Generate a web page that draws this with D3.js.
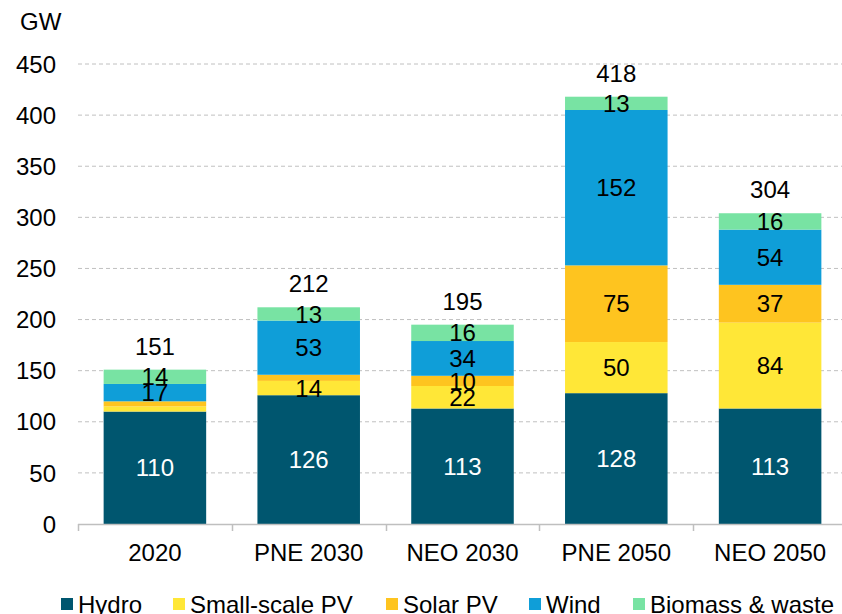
<!DOCTYPE html>
<html>
<head>
<meta charset="utf-8">
<script src="https://cdn.jsdelivr.net/npm/d3@7"></script>
<style>
  body { margin: 0; background: #fff; }
  svg { font-family: "Liberation Sans", Arial, sans-serif; }
</style>
</head>
<body>
<div id="viz"></div>
<script>
// chart data
var categories = ["2020", "PNE 2030", "NEO 2030", "PNE 2050", "NEO 2050"];
var seriesNames = ["Hydro", "Small-scale PV", "Solar PV", "Wind", "Biomass & waste"];
var hydro = [110, 126, 113, 128, 113];
var smallPV = [5, 14, 22, 50, 84];
var solarPV = [5, 6, 10, 75, 37];
var wind = [17, 53, 34, 152, 54];
var biomass = [14, 13, 16, 13, 16];
var totals = [151, 212, 195, 418, 304];
var yTicks = [0, 50, 100, 150, 200, 250, 300, 350, 400, 450];

var colors = ["#00566f", "#ffe737", "#fec41f", "#0f9ed8", "#78e3a3"];
var labelColors = ["#fff", "#000", "#000", "#000", "#000"];
var fontSize = "24px";

var width = 842, height = 614;
var margin = {top: 64, left: 78, right: 842 - 847, bottom: 614 - 524};

var rows = categories.map(function(c, i) {
    return {cat: c, "Hydro": hydro[i], "Small-scale PV": smallPV[i], "Solar PV": solarPV[i],
            "Wind": wind[i], "Biomass & waste": biomass[i], total: totals[i]};
});

var svg = d3.select("#viz").append("svg")
    .attr("width", width)
    .attr("height", height);

var x = d3.scaleBand()
    .domain(categories)
    .range([margin.left, width - margin.right])
    .paddingInner(1 / 3)
    .paddingOuter(1 / 6);

// band boundaries for the axis tick marks
var xEdge = d3.scaleBand()
    .domain(categories)
    .range([margin.left, width - margin.right])
    .padding(0);

var y = d3.scaleLinear()
    .domain([0, 450])
    .range([height - margin.bottom, margin.top]);

// gridlines
svg.append("g")
    .selectAll("line")
    .data(yTicks.filter(function(d) { return d > 0; }))
    .enter()
    .append("line")
        .attr("x1", margin.left)
        .attr("x2", width)
        .attr("y1", function(d) { return y(d); })
        .attr("y2", function(d) { return y(d); })
        .attr("stroke", "#c0c0c0")
        .attr("stroke-width", 1)
        .attr("stroke-dasharray", "4,3");

// y tick labels
svg.append("g")
    .selectAll("text")
    .data(yTicks)
    .enter()
    .append("text")
        .attr("x", 56)
        .attr("y", function(d) { return y(d); })
        .attr("dy", "0.36em")
        .attr("text-anchor", "end")
        .attr("font-size", fontSize)
        .attr("fill", "#000")
        .text(function(d) { return d; });

svg.append("text")
    .attr("x", 20)
    .attr("y", 30)
    .attr("font-size", fontSize)
    .text("GW");

// stacked bars
var stacked = d3.stack().keys(seriesNames)(rows);

var layers = svg.append("g")
    .selectAll("g")
    .data(stacked)
    .enter()
    .append("g")
        .attr("fill", function(d, i) { return colors[i]; });

layers.selectAll("rect")
    .data(function(d) { return d; })
    .enter()
    .append("rect")
        .attr("x", function(d) { return x(d.data.cat); })
        .attr("width", x.bandwidth())
        .attr("y", function(d) { return y(d[1]); })
        .attr("height", function(d) { return y(d[0]) - y(d[1]); });

// segment labels (thin PV slices of 2020 and PNE 2030 carry no label)
stacked.forEach(function(layer, i) {
    svg.append("g")
        .selectAll("text")
        .data(layer)
        .enter()
        .append("text")
            .attr("x", function(d) { return x(d.data.cat) + x.bandwidth() / 2; })
            .attr("y", function(d) { return (y(d[0]) + y(d[1])) / 2; })
            .attr("dy", "0.36em")
            .attr("text-anchor", "middle")
            .attr("font-size", fontSize)
            .attr("fill", labelColors[i])
            .text(function(d) {
                var v = d[1] - d[0];
                return (i === 1 || i === 2) && v < 8 ? "" : v;
            });
});

// totals
svg.append("g")
    .selectAll("text")
    .data(rows)
    .enter()
    .append("text")
        .attr("x", function(d) { return x(d.cat) + x.bandwidth() / 2; })
        .attr("y", function(d) { return y(d.total) - 15; })
        .attr("text-anchor", "middle")
        .attr("font-size", fontSize)
        .text(function(d) { return d.total; });

// x axis
var axisY = y(0);
svg.append("line")
    .attr("x1", margin.left)
    .attr("x2", width)
    .attr("y1", axisY + 0.5)
    .attr("y2", axisY + 0.5)
    .attr("stroke", "#bfbfbf")
    .attr("stroke-width", 1.5);

var edges = categories.map(function(c) { return xEdge(c); });
svg.append("g")
    .selectAll("line")
    .data(edges)
    .enter()
    .append("line")
        .attr("x1", function(d) { return Math.round(d) + 0.5; })
        .attr("x2", function(d) { return Math.round(d) + 0.5; })
        .attr("y1", axisY)
        .attr("y2", axisY + 7)
        .attr("stroke", "#bfbfbf")
        .attr("stroke-width", 1.5);

svg.append("g")
    .selectAll("text")
    .data(categories)
    .enter()
    .append("text")
        .attr("x", function(d) { return x(d) + x.bandwidth() / 2; })
        .attr("y", 561)
        .attr("text-anchor", "middle")
        .attr("font-size", fontSize)
        .text(function(d) { return d; });

// legend
var legendX = [61, 173, 386, 529, 633];
var legend = svg.append("g")
    .selectAll("g")
    .data(seriesNames)
    .enter()
    .append("g")
        .attr("transform", function(d, i) { return "translate(" + legendX[i] + ",0)"; });

legend.append("rect")
    .attr("x", 0)
    .attr("y", 598)
    .attr("width", 12)
    .attr("height", 12)
    .attr("fill", function(d, i) { return colors[i]; });

legend.append("text")
    .attr("x", 17)
    .attr("y", 613)
    .attr("font-size", fontSize)
    .text(function(d) { return d; });
</script>
</body>
</html>
